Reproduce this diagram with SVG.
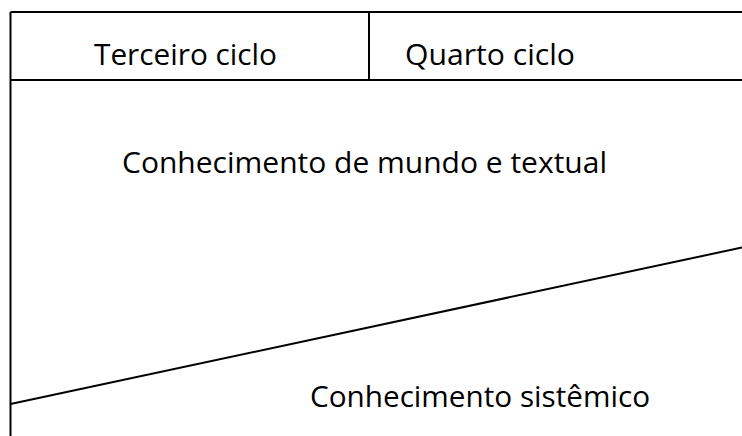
<svg xmlns="http://www.w3.org/2000/svg" width="742" height="436" viewBox="0 0 742 436">
<style>
.ln{stroke:#000;stroke-width:2;fill:none}
.t{font-family:"Open Sans","Liberation Sans",sans-serif;font-size:30px;fill:#000}
</style>
<rect width="742" height="436" fill="#fff"/>
<g id="connectors">
<line class="ln" x1="10.5" y1="12" x2="742" y2="12"/>
<line class="ln" x1="10.5" y1="12" x2="10.5" y2="436"/>
<line class="ln" x1="10.5" y1="80" x2="742" y2="80"/>
<line class="ln" x1="369" y1="12" x2="369" y2="80"/>
<line class="ln" x1="10.5" y1="404" x2="742" y2="247.5"/>
</g>
<g id="terceiro"><text class="t" x="94" y="65" textLength="183" lengthAdjust="spacingAndGlyphs">Terceiro ciclo</text></g>
<g id="quarto"><text class="t" x="405" y="65" textLength="170" lengthAdjust="spacingAndGlyphs">Quarto ciclo</text></g>
<g id="mundo"><text class="t" x="122" y="172.5" textLength="485" lengthAdjust="spacingAndGlyphs">Conhecimento de mundo e textual</text></g>
<g id="sistemico"><text class="t" x="310" y="406.5" textLength="340" lengthAdjust="spacingAndGlyphs">Conhecimento sistêmico</text></g>
</svg>
